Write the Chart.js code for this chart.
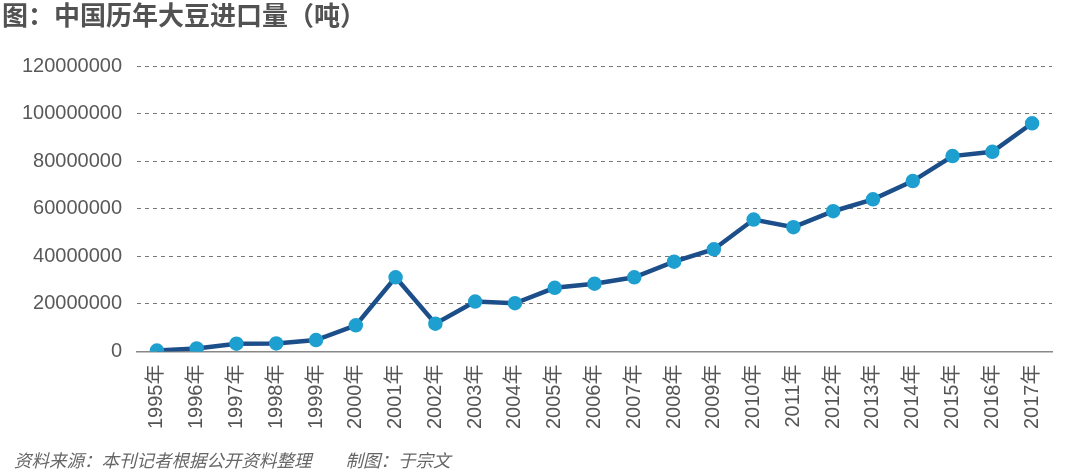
<!DOCTYPE html>
<html>
<head>
<meta charset="utf-8">
<script src="https://cdn.jsdelivr.net/npm/chart.js@4"></script>
<style>
  body { margin: 0; background: #fff; }
  #box { position: relative; width: 1080px; height: 475px; }
  #note {
    position: absolute; left: 14px; top: 450px;
    font: italic 17.5px/20px "Noto Sans CJK SC"; color: #666;
    white-space: pre;
  }
  #note span { margin-left: 34px; }
</style>
</head>
<body>
<div id="box">
  <canvas id="soy" width="1080" height="475"></canvas>
  <div id="note">资料来源：本刊记者根据公开资料整理<span>制图：于宗文</span></div>
</div>
<script>
const years = ['1995年', '1996年', '1997年', '1998年', '1999年', '2000年', '2001年', '2002年',
  '2003年', '2004年', '2005年', '2006年', '2007年', '2008年', '2009年', '2010年', '2011年',
  '2012年', '2013年', '2014年', '2015年', '2016年', '2017年'];
const imports = [400000, 1300000, 3300000, 3400000, 4800000, 11000000, 31200000, 11700000,
  21000000, 20300000, 26800000, 28500000, 31200000, 37800000, 43000000, 55500000, 52300000,
  59000000, 64000000, 71700000, 82200000, 84000000, 96000000];
const yTicks = [0, 20000000, 40000000, 60000000, 80000000, 100000000, 120000000];

const ctx = document.getElementById('soy').getContext('2d');
const chart = new Chart(ctx, {
  type: 'line',
  data: {
    labels: years,
    datasets: [{
      data: imports,
      borderColor: '#1c4f8a',
      borderWidth: 4.5,
      pointBackgroundColor: '#1d9fd0',
      pointBorderColor: '#1d9fd0',
      pointRadius: 5,
      tension: 0
    }]
  },
  options: {
    responsive: false,
    animation: false,
    devicePixelRatio: 1,
    layout: { padding: { left: 2, right: 28, top: 0, bottom: 41 } },
    plugins: {
      legend: { display: false },
      tooltip: { enabled: false },
      title: {
        display: true,
        text: '图：中国历年大豆进口量（吨）',
        align: 'start',
        color: '#525252',
        font: { family: '"Noto Sans CJK SC"', size: 26, weight: 'bold' },
        padding: { top: 0, bottom: 35 }
      }
    },
    scales: {
      x: {
        offset: true,
        grid: { display: false },
        border: { display: true, color: '#888888', width: 1.5 },
        ticks: {
          minRotation: 90,
          maxRotation: 90,
          autoSkip: false,
          padding: 5,
          color: '#555555',
          font: { family: '"Liberation Sans", "Noto Sans CJK SC"', size: 20 }
        }
      },
      y: {
        min: 0,
        max: 120000000,
        afterBuildTicks: axis => { axis.ticks = yTicks.map(v => ({ value: v })); },
        afterFit: axis => { axis.width = 135; },
        grid: {
          drawTicks: false,
          color: c => c.tick.value === 0 ? 'rgba(0,0,0,0)' : '#777777',
          lineWidth: 1
        },
        border: { display: false, dash: [4, 4] },
        ticks: {
          padding: 15,
          color: '#595959',
          font: { family: '"Liberation Sans"', size: 20 },
          callback: v => String(v)
        }
      }
    }
  }
});
</script>
</body>
</html>
